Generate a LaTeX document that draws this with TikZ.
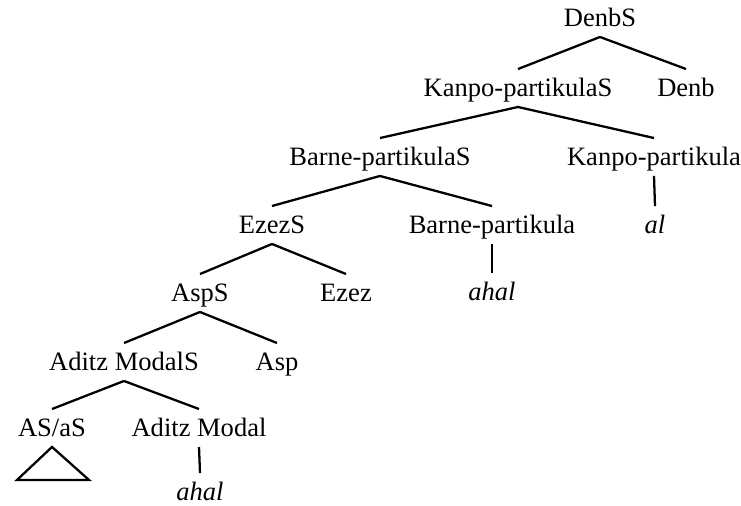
\documentclass[tikz,border=0pt]{standalone}
\usepackage{fontspec}
\setmainfont{Liberation Serif}

\begin{document}
\begin{tikzpicture}[x=0.02cm,y=-0.02cm]
\useasboundingbox (0,0) rectangle (741,506);
\begin{scope}[every node/.style={font=\fontsize{15.1}{17}\selectfont,
              text height=10pt,text depth=0pt,inner xsep=0pt,inner ysep=5.6pt}]
    \node (denbS) at (600,18) {DenbS};
    \node (kpS) at (518,88) {Kanpo-partikulaS};
    \node (denb) at (686,88) {Denb};
    \node (bpS) at (380,157) {Barne-partikulaS};
    \node (kp) at (654,157) {Kanpo-partikula};
    \node (ezezS) at (272,225) {EzezS};
    \node (bp) at (492,225) {Barne-partikula};
    \node (al) at (655,225) {\textit{al}};
    \node (aspS) at (200,293) {AspS};
    \node (ezez) at (346,293) {Ezez};
    \node (ahalA) at (492,292) {\textit{ahal}};
    \node (amS) at (124,362) {Aditz ModalS};
    \node (asp) at (277,362) {Asp};
    \node (asaS) at (52,428) {AS/aS};
    \node (am) at (199,428) {Aditz Modal};
    \node (ahalB) at (200,492) {\textit{ahal}};
\end{scope}
\begin{scope}[every edge/.style={draw=black,line width=1.3pt}]
    \path (denbS.south) edge (kpS.north);
    \path (denbS.south) edge (denb.north);
    \path (kpS.south) edge (bpS.north);
    \path (kpS.south) edge (kp.north);
    \path (bpS.south) edge (ezezS.north);
    \path (bpS.south) edge (bp.north);
    \path (kp.south) edge (al.north);
    \path (ezezS.south) edge (aspS.north);
    \path (ezezS.south) edge (ezez.north);
    \path (bp.south) edge (ahalA.north);
    \path (aspS.south) edge (amS.north);
    \path (aspS.south) edge (asp.north);
    \path (amS.south) edge (asaS.north);
    \path (amS.south) edge (am.north);
    \path (am.south) edge (ahalB.north);
\end{scope}
% roof under AS/aS
\draw[line width=1.3pt] (asaS.south) -- ++(-35,33) -- ++(72,0) -- cycle;
\end{tikzpicture}
\end{document}
